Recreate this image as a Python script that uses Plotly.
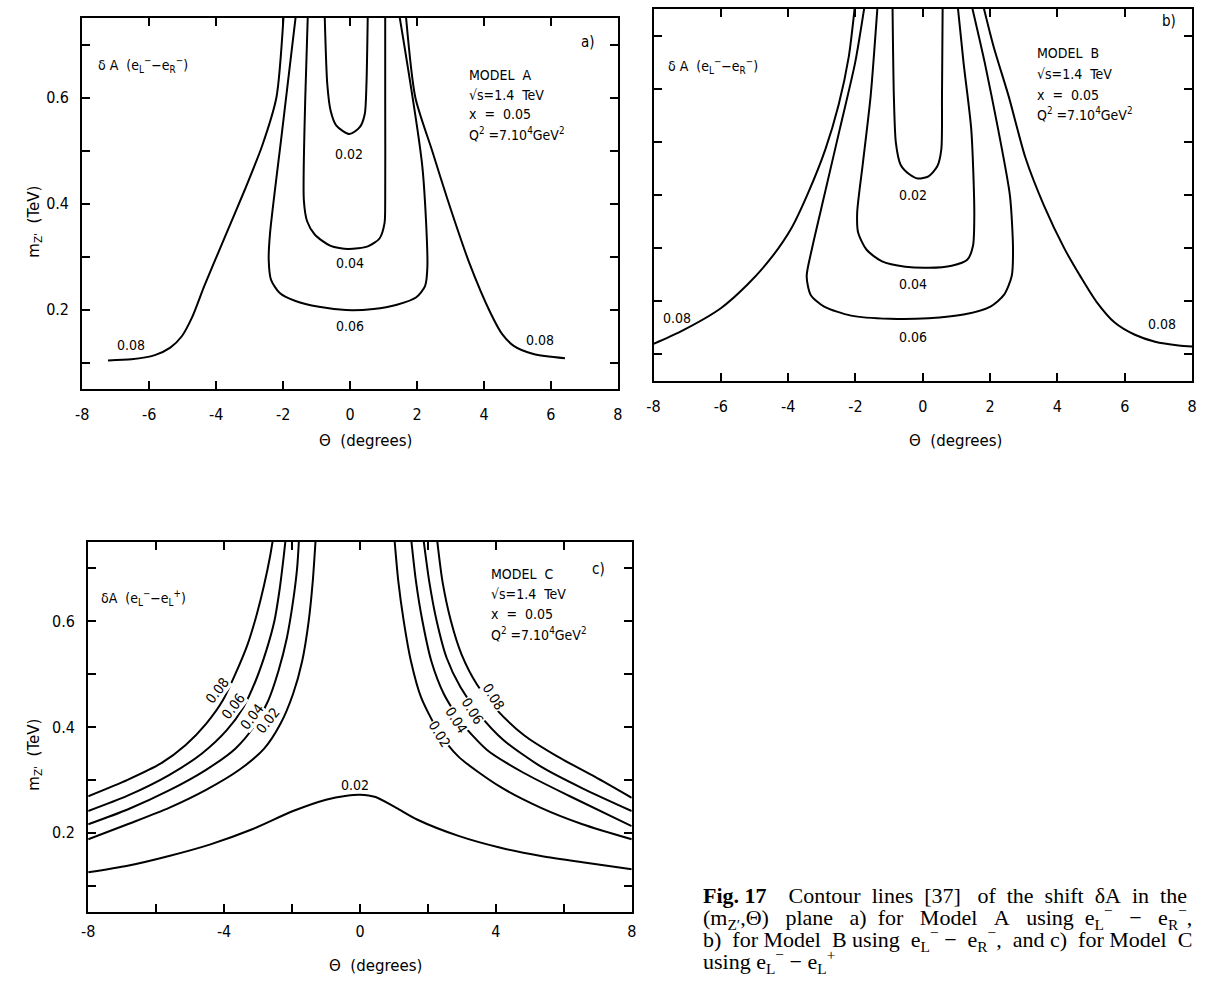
import re
import plotly.graph_objects as go

# ---------------- contour lines, panel a (Model A) ----------------
a_002_x = [-0.76, -0.68, -0.58, -0.41, -0.02, 0.29, 0.44, 0.49, 0.53]
a_002_y = [0.76, 0.625, 0.575, 0.547, 0.531, 0.544, 0.569, 0.625, 0.76]
a_004_x = [-1.26, -1.34, -1.38, -1.28, -1.05, -0.58, -0.06, 0.53, 0.88, 1.03, 1.05, 1.05, 1.05]
a_004_y = [0.76, 0.594, 0.406, 0.366, 0.341, 0.320, 0.314, 0.319, 0.334, 0.363, 0.406, 0.594, 0.76]
a_006_x = [-1.61, -2.04, -2.39, -2.43, -2.36, -2.10, -1.63, -0.93, -0.12, 0.70, 1.40, 1.98, 2.24, 2.31, 2.16, 1.46]
a_006_y = [0.76, 0.531, 0.344, 0.294, 0.256, 0.231, 0.216, 0.205, 0.199, 0.201, 0.209, 0.223, 0.244, 0.281, 0.469, 0.76]
a_008_x = [-7.23, -6.53, -5.83, -5.37, -5.02, -4.72, -4.35, -3.75, -3.15, -2.62, -2.20, -1.98]
a_008_y = [0.104, 0.106, 0.114, 0.128, 0.150, 0.185, 0.245, 0.335, 0.425, 0.510, 0.600, 0.76]
a_008r_x = [1.66, 1.95, 2.45, 2.92, 3.55, 4.20, 4.55, 4.90, 5.48, 6.42]
a_008r_y = [0.76, 0.600, 0.500, 0.406, 0.290, 0.193, 0.153, 0.131, 0.116, 0.108]

# ---------------- contour lines, panel b (Model B) ----------------
b_002_x = [-0.90, -0.86, -0.80, -0.66, -0.40, -0.15, 0.17, 0.43, 0.55, 0.57, 0.59]
b_002_y = [0.76, 0.586, 0.498, 0.457, 0.439, 0.431, 0.435, 0.454, 0.486, 0.586, 0.76]
b_004_x = [-1.34, -1.55, -1.78, -1.95, -1.92, -1.67, -1.21, -0.52, 0.17, 0.86, 1.32, 1.49, 1.53, 1.44, 1.21, 1.03]
b_004_y = [0.76, 0.586, 0.460, 0.366, 0.329, 0.297, 0.275, 0.265, 0.263, 0.267, 0.278, 0.304, 0.366, 0.523, 0.649, 0.76]
b_006_x = [-1.72, -2.01, -2.47, -2.93, -3.30, -3.45, -3.33, -2.93, -2.13, -0.98, 0.17, 1.21, 2.01, 2.41, 2.64, 2.68, 2.59, 2.24, 1.84, 1.44]
b_006_y = [0.76, 0.649, 0.523, 0.398, 0.297, 0.247, 0.212, 0.190, 0.173, 0.167, 0.168, 0.175, 0.190, 0.212, 0.247, 0.297, 0.398, 0.523, 0.649, 0.76]
b_008_x = [-8.0, -7.2, -6.0, -5.2, -4.5, -3.9, -3.4, -2.9, -2.5, -2.2, -2.01]
b_008_y = [0.120, 0.143, 0.187, 0.232, 0.282, 0.338, 0.405, 0.485, 0.570, 0.660, 0.76]
b_008r_x = [1.78, 2.10, 2.55, 3.05, 3.60, 4.20, 4.70, 5.15, 5.70, 6.30, 6.90, 7.60, 8.0]
b_008r_y = [0.76, 0.680, 0.586, 0.470, 0.380, 0.300, 0.245, 0.200, 0.160, 0.137, 0.124, 0.117, 0.115]

# ---------------- contour lines, panel c (Model C) ----------------
c_008l_x = [-8.0, -6.84, -5.86, -5.13, -4.53, -4.04, -3.67, -3.31, -3.04, -2.82, -2.64, -2.55]
c_008l_y = [0.269, 0.300, 0.331, 0.366, 0.406, 0.450, 0.500, 0.556, 0.6125, 0.669, 0.725, 0.76]
c_006l_x = [-8.0, -6.84, -5.62, -4.65, -3.92, -3.43, -3.07, -2.76, -2.52, -2.36, -2.24, -2.18]
c_006l_y = [0.241, 0.270, 0.309, 0.350, 0.394, 0.4375, 0.4875, 0.544, 0.600, 0.6625, 0.725, 0.76]
c_004l_x = [-8.0, -6.84, -5.62, -4.53, -3.67, -3.13, -2.70, -2.40, -2.15, -1.97, -1.85, -1.79]
c_004l_y = [0.216, 0.244, 0.280, 0.319, 0.359, 0.400, 0.450, 0.506, 0.569, 0.6375, 0.700, 0.76]
c_002l_x = [-8.0, -6.84, -5.62, -4.53, -3.55, -2.82, -2.34, -1.97, -1.70, -1.51, -1.39, -1.30]
c_002l_y = [0.1875, 0.216, 0.247, 0.281, 0.319, 0.359, 0.406, 0.4625, 0.525, 0.600, 0.675, 0.76]
c_002r_x = [1.01, 1.13, 1.29, 1.50, 1.80, 2.29, 2.90, 4.11, 5.33, 6.55, 8.0]
c_002r_y = [0.76, 0.675, 0.600, 0.525, 0.456, 0.394, 0.344, 0.2875, 0.247, 0.216, 0.1875]
c_004r_x = [1.50, 1.65, 1.84, 2.10, 2.47, 3.02, 3.75, 4.84, 6.18, 8.0]
c_004r_y = [0.76, 0.675, 0.600, 0.525, 0.4625, 0.406, 0.356, 0.3125, 0.269, 0.2125]
c_006r_x = [1.86, 2.04, 2.26, 2.55, 2.96, 3.50, 4.23, 5.33, 6.55, 8.0]
c_006r_y = [0.76, 0.675, 0.600, 0.531, 0.475, 0.425, 0.375, 0.325, 0.284, 0.241]
c_008r_x = [2.26, 2.43, 2.68, 2.99, 3.44, 4.05, 4.84, 5.82, 6.91, 8.0]
c_008r_y = [0.76, 0.675, 0.600, 0.5375, 0.481, 0.431, 0.384, 0.344, 0.306, 0.266]
c_bump_x = [-8.0, -6.84, -5.62, -4.40, -3.19, -1.97, -1.0, -0.39, 0.0, 0.46, 1.07, 1.68, 2.90, 4.11, 5.33, 6.55, 8.0]
c_bump_y = [0.125, 0.1375, 0.156, 0.178, 0.206, 0.241, 0.2625, 0.270, 0.272, 0.2675, 0.247, 0.225, 0.194, 0.172, 0.156, 0.144, 0.131]

# contour level labels
levels = ["0.02", "0.04", "0.06", "0.08"]

# axis ticks
x_ticks = [-8, -6, -4, -2, 0, 2, 4, 6, 8]
x_ticktext_ab = ["-8", "-6", "-4", "-2", "0", "2", "4", "6", "8"]
x_ticktext_c = ["-8", "", "-4", "", "0", "", "4", "", "8"]
y_ticks = [0.1, 0.2, 0.3, 0.4, 0.5, 0.6, 0.7]
y_ticktext = ["", "0.2", "", "0.4", "", "0.6", ""]
y_ticktext_blank = [""] * 7

W, H = 1207, 982
FONT = "DejaVu Sans Condensed, DejaVu Sans, sans-serif"
WIDE = "DejaVu Sans, sans-serif"
SERIF = "Liberation Serif, Times New Roman, serif"


def px_x(p):
    return p / W


def px_y(p):
    return 1 - p / H


fig = go.Figure()

LINE = dict(color="black", width=2, shape="spline", smoothing=0.7)


def add_curve(xs, ys, n):
    sfx = "" if n == 1 else str(n)
    fig.add_trace(go.Scatter(x=xs, y=ys, mode="lines", line=LINE,
                             xaxis="x" + sfx, yaxis="y" + sfx,
                             showlegend=False, hoverinfo="skip"))


for xs, ys in [(a_002_x, a_002_y), (a_004_x, a_004_y), (a_006_x, a_006_y),
               (a_008_x, a_008_y), (a_008r_x, a_008r_y)]:
    add_curve(xs, ys, 1)
for xs, ys in [(b_002_x, b_002_y), (b_004_x, b_004_y), (b_006_x, b_006_y),
               (b_008_x, b_008_y), (b_008r_x, b_008r_y)]:
    add_curve(xs, ys, 2)
for xs, ys in [(c_008l_x, c_008l_y), (c_006l_x, c_006l_y), (c_004l_x, c_004l_y),
               (c_002l_x, c_002l_y), (c_002r_x, c_002r_y), (c_004r_x, c_004r_y),
               (c_006r_x, c_006r_y), (c_008r_x, c_008r_y), (c_bump_x, c_bump_y)]:
    add_curve(xs, ys, 3)


def axis(domain, tickvals, ticktext, rng, anchor, standoff):
    return dict(domain=domain, range=rng, tickmode="array", tickvals=tickvals,
                ticktext=ticktext, showline=True, linecolor="black", linewidth=2,
                mirror="ticks", ticks="inside", ticklen=8, tickwidth=1.5,
                tickcolor="black", showgrid=False, zeroline=False, anchor=anchor,
                ticklabelstandoff=standoff,
                tickfont=dict(family=FONT, size=16, color="black"))


xa_a = axis([px_x(76), px_x(617)], x_ticks, x_ticktext_ab, [-8, 8], "y", 10)
ya_a = axis([px_y(389), px_y(18)], y_ticks, y_ticktext, [0.05, 0.75], "x", 8)
xa_b = axis([px_x(653), px_x(1197)], x_ticks, x_ticktext_ab, [-8, 8], "y2", 10)
ya_b = axis([px_y(381), px_y(9)], y_ticks, y_ticktext_blank, [0.05, 0.75], "x2", 8)
xa_c = axis([px_x(82), px_x(631)], x_ticks, x_ticktext_c, [-8, 8], "y3", 4)
ya_c = axis([px_y(912), px_y(542)], y_ticks, y_ticktext, [0.05, 0.75], "x3", 8)

ann = []


def txt(x, y, s, ref, size=14, **kw):
    d = dict(x=x, y=y, text=s, xref="x" + ref, yref="y" + ref, showarrow=False,
             font=dict(family=FONT, size=size, color="black"))
    d.update(kw)
    ann.append(d)


def ptxt(x, y, s, size=14, family=FONT, xanchor="center", **kw):
    d = dict(x=px_x(x), y=px_y(y), text=s, xref="paper", yref="paper",
             xanchor=xanchor, yanchor="middle", showarrow=False,
             font=dict(family=family, size=size, color="black"))
    d.update(kw)
    ann.append(d)


info = ["√s=1.4  TeV", "x  =  0.05", "Q<sup>2</sup> =7.10<sup>4</sup>GeV<sup>2</sup>"]

# panel a labels
txt(-0.02, 0.4925, levels[0], "")
txt(0.0, 0.2875, levels[1], "")
txt(0.0, 0.169, levels[2], "")
txt(-6.53, 0.133, levels[3], "")
txt(5.66, 0.1425, levels[3], "")
txt(-7.6, 0.662, "δ A  (e<sub>L</sub><sup>−</sup>−e<sub>R</sub><sup>−</sup>)", "", xanchor="left")
for yy, s in zip([0.642, 0.604, 0.568, 0.532], ["MODEL  A"] + info):
    txt(3.5, yy, s, "", xanchor="left")
txt(7.1, 0.705, "a)", "", size=15)

# panel b labels
txt(-0.29, 0.40, levels[0], "2")
txt(-0.29, 0.233, levels[1], "2")
txt(-0.29, 0.133, levels[2], "2")
txt(-7.3, 0.168, levels[3], "2")
txt(7.1, 0.158, levels[3], "2")
txt(-7.64, 0.643, "δ A  (e<sub>L</sub><sup>−</sup>−e<sub>R</sub><sup>−</sup>)", "2", xanchor="left")
for yy, s in zip([0.668, 0.628, 0.589, 0.553], ["MODEL  B"] + info):
    txt(3.33, yy, s, "2", xanchor="left")
txt(7.3, 0.727, "b)", "2", size=15)

# panel c labels (on the curves, with a white gap)
for (xx, yy), s in zip([(-4.22, 0.469), (-3.73, 0.44), (-3.19, 0.419), (-2.70, 0.4125)],
                       ["0.08", "0.06", "0.04", "0.02"]):
    txt(xx, yy, s, "3", textangle=-52, bgcolor="white", borderpad=0)
for (xx, yy), s in zip([(3.93, 0.456), (3.32, 0.431), (2.83, 0.4125), (2.35, 0.3875)],
                       ["0.08", "0.06", "0.04", "0.02"]):
    txt(xx, yy, s, "3", textangle=58, bgcolor="white", borderpad=0)
txt(-0.15, 0.29, levels[0], "3")
txt(-7.69, 0.644, "δA  (e<sub>L</sub><sup>−</sup>−e<sub>L</sub><sup>+</sup>)", "3", xanchor="left")
for yy, s in zip([0.690, 0.652, 0.613, 0.576], ["MODEL  C"] + info):
    txt(3.81, yy, s, "3", xanchor="left")
txt(7.03, 0.699, "c)", "3", size=15)

# axis titles
ytitle = "m<sub>Z'</sub>  (TeV)"
ptxt(27, 222, ytitle, size=15, family=WIDE, textangle=-90)
ptxt(27, 755, ytitle, size=15, family=WIDE, textangle=-90)
xtitle = "Θ  (degrees)"
ptxt(362, 441, xtitle, size=15, family=WIDE)
ptxt(958, 441, xtitle, size=15, family=WIDE)
ptxt(372, 966, xtitle, size=15, family=WIDE)

# ---------------- caption: one text per line, justified with spaces ----------------
TIMES = {
    'a': 444, 'b': 500, 'c': 444, 'd': 500, 'e': 444, 'f': 333, 'g': 500, 'h': 500,
    'i': 278, 'j': 278, 'k': 500, 'l': 278, 'm': 778, 'n': 500, 'o': 500, 'p': 500,
    'q': 500, 'r': 333, 's': 389, 't': 278, 'u': 500, 'v': 500, 'w': 722, 'x': 500,
    'y': 500, 'z': 444, 'A': 722, 'B': 667, 'C': 667, 'D': 722, 'E': 611, 'F': 556,
    'G': 722, 'H': 722, 'I': 333, 'L': 611, 'M': 889, 'R': 667, 'Z': 611,
    '.': 250, ',': 250, ' ': 250, '[': 333, ']': 333, '(': 333, ')': 333,
    '−': 564, '+': 564, 'Θ': 722, 'δ': 500, '′': 275,
}
CAP_SIZE = 22
CAP_LEFT, CAP_RIGHT = 701, 1190
NBSP = "\u00a0"


def text_width(html, size):
    w, scale = 0.0, 1.0
    for tok in re.split(r"(<[^>]+>)", html):
        if tok.startswith("<"):
            if tok in ("<sub>", "<sup>"):
                scale = 0.7
            elif tok in ("</sub>", "</sup>"):
                scale = 1.0
            continue
        for ch in tok:
            w += (500 if ch.isdigit() else TIMES.get(ch, 500)) * scale
    return w / 1000.0 * size


eLm = "e<sub>L</sub><sup>−</sup>"
eRm = "e<sub>R</sub><sup>−</sup>"
eLp = "e<sub>L</sub><sup>+</sup>"
cap_lines = [
    (["<b>Fig." + NBSP + "17</b>", "", "Contour", "lines", "[37]", "of", "the", "shift",
      "δA", "in", "the"], True),
    (["(m<sub>Z′</sub>,Θ)", "plane", "a)", "for", "Model", "A", "using", eLm, "−", eRm + ","], True),
    (["b)", "for", "Model", "B", "using", eLm, "−", eRm + ",", "and", "c)", "for", "Model", "C"], True),
    (["using", eLm, "−", eLp], False),
]
space_w = TIMES[' '] / 1000.0 * CAP_SIZE
for i, (words, justify) in enumerate(cap_lines):
    widths = [text_width(wd, CAP_SIZE) for wd in words]
    ngaps = len(words) - 1
    gap = (CAP_RIGHT - CAP_LEFT - sum(widths)) / ngaps if justify else space_w
    out, drift = words[0], 0.0
    for wd in words[1:]:
        want = gap + drift
        n = max(1, int(round(want / space_w)))
        drift = want - n * space_w
        out += NBSP * n + wd
    ptxt(CAP_LEFT, 895 + 22 * i, out, size=CAP_SIZE, family=SERIF, xanchor="left")

fig.update_layout(
    width=W, height=H, margin=dict(l=0, r=0, t=0, b=0),
    paper_bgcolor="white", plot_bgcolor="white",
    xaxis=xa_a, yaxis=ya_a, xaxis2=xa_b, yaxis2=ya_b, xaxis3=xa_c, yaxis3=ya_c,
    annotations=ann, showlegend=False,
)

fig.write_html("out.html")
